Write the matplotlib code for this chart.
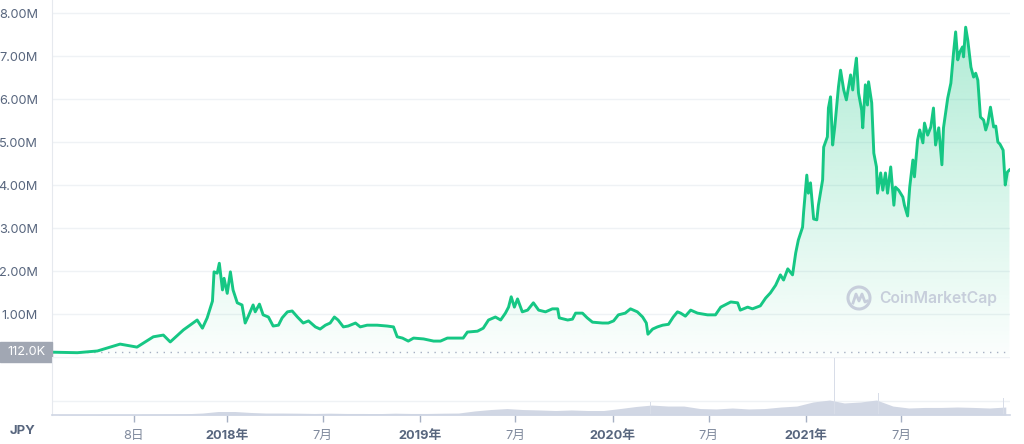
import numpy as np
import pandas as pd
import matplotlib
matplotlib.use("Agg")
import matplotlib.pyplot as plt
import matplotlib.dates as mdates
from matplotlib.patches import Rectangle, Arc
from matplotlib.transforms import blended_transform_factory

FAM = ["Inter", "Noto Sans CJK JP", "DejaVu Sans"]
plt.rcParams["font.family"] = FAM

# price in million JPY
price_dates = [
    "2017-02-03", "2017-03-23", "2017-04-30", "2017-05-24", "2017-06-12", "2017-07-14",
    "2017-08-14", "2017-09-02", "2017-09-15", "2017-10-10", "2017-11-05", "2017-11-15",
    "2017-11-24", "2017-12-04", "2017-12-07", "2017-12-13", "2017-12-17", "2017-12-23",
    "2017-12-26", "2018-01-01", "2018-01-07", "2018-01-12", "2018-01-20", "2018-01-29",
    "2018-02-04", "2018-02-10", "2018-02-19", "2018-02-23", "2018-03-03", "2018-03-10",
    "2018-03-20", "2018-03-29", "2018-04-08", "2018-04-15", "2018-04-25", "2018-05-04",
    "2018-05-14", "2018-05-25", "2018-06-04", "2018-06-17", "2018-06-26", "2018-07-06",
    "2018-07-15", "2018-07-23", "2018-07-30", "2018-08-09", "2018-08-18", "2018-09-01",
    "2018-09-10", "2018-09-23", "2018-10-12", "2018-10-31", "2018-11-12", "2018-11-19",
    "2018-11-29", "2018-12-10", "2018-12-20", "2019-01-08", "2019-01-27", "2019-02-09",
    "2019-02-22", "2019-03-24", "2019-04-01", "2019-04-20", "2019-05-01", "2019-05-11",
    "2019-05-24", "2019-06-03", "2019-06-12", "2019-06-18", "2019-06-23", "2019-06-29",
    "2019-07-05", "2019-07-14", "2019-07-24", "2019-08-04", "2019-08-14", "2019-08-27",
    "2019-09-09", "2019-09-19", "2019-09-22", "2019-10-08", "2019-10-17", "2019-10-23",
    "2019-11-05", "2019-11-14", "2019-11-24", "2019-12-13", "2019-12-24", "2020-01-03",
    "2020-01-12", "2020-01-25", "2020-02-04", "2020-02-17", "2020-02-27", "2020-03-05",
    "2020-03-08", "2020-03-17", "2020-03-26", "2020-04-05", "2020-04-16", "2020-04-25",
    "2020-05-03", "2020-05-09", "2020-05-18", "2020-05-28", "2020-06-10", "2020-06-29",
    "2020-07-14", "2020-07-24", "2020-08-12", "2020-08-25", "2020-08-30", "2020-09-13",
    "2020-09-22", "2020-10-07", "2020-10-17", "2020-10-26", "2020-11-05", "2020-11-14",
    "2020-11-20", "2020-11-28", "2020-12-07", "2020-12-13", "2020-12-18", "2020-12-26",
    "2020-12-28", "2021-01-03", "2021-01-06", "2021-01-10", "2021-01-16", "2021-01-22",
    "2021-01-25", "2021-02-02", "2021-02-04", "2021-02-11", "2021-02-13", "2021-02-17",
    "2021-02-21", "2021-02-25", "2021-03-04", "2021-03-08", "2021-03-14", "2021-03-19",
    "2021-03-27", "2021-03-31", "2021-04-04", "2021-04-07", "2021-04-11", "2021-04-17",
    "2021-04-19", "2021-04-24", "2021-04-28", "2021-04-30", "2021-05-06", "2021-05-10",
    "2021-05-15", "2021-05-17", "2021-05-23", "2021-05-27", "2021-06-01", "2021-06-05",
    "2021-06-11", "2021-06-17", "2021-06-20", "2021-06-26", "2021-07-04", "2021-07-07",
    "2021-07-13", "2021-07-17", "2021-07-23", "2021-07-26", "2021-08-01", "2021-08-05",
    "2021-08-11", "2021-08-14", "2021-08-20", "2021-08-26", "2021-08-31", "2021-09-04",
    "2021-09-10", "2021-09-16", "2021-09-19", "2021-09-27", "2021-10-03", "2021-10-08",
    "2021-10-12", "2021-10-16", "2021-10-20", "2021-10-25", "2021-10-27", "2021-10-31",
    "2021-11-04", "2021-11-10", "2021-11-15", "2021-11-19", "2021-11-23", "2021-11-28",
    "2021-12-04", "2021-12-08", "2021-12-12", "2021-12-17", "2021-12-23", "2021-12-27",
    "2021-12-31", "2022-01-04", "2022-01-10", "2022-01-14", "2022-01-18", "2022-01-22",
]
price_m = [
    0.112, 0.10, 0.14, 0.23, 0.30, 0.23,
    0.47, 0.51, 0.35, 0.63, 0.86, 0.67,
    0.91, 1.30, 1.98, 1.95, 2.18, 1.56,
    1.83, 1.48, 1.98, 1.56, 1.26, 1.21,
    0.79, 0.95, 1.21, 1.05, 1.23, 0.98,
    0.93, 0.72, 0.74, 0.91, 1.05, 1.07,
    0.93, 0.79, 0.84, 0.70, 0.65, 0.74,
    0.79, 0.93, 0.86, 0.70, 0.72, 0.79,
    0.70, 0.74, 0.74, 0.72, 0.70, 0.47,
    0.44, 0.37, 0.44, 0.42, 0.37, 0.37,
    0.44, 0.44, 0.58, 0.60, 0.67, 0.86,
    0.93, 0.86, 1.02, 1.16, 1.40, 1.16,
    1.35, 1.05, 1.09, 1.26, 1.09, 1.05,
    1.12, 1.12, 0.91, 0.86, 0.88, 1.02,
    1.02, 0.91, 0.81, 0.79, 0.79, 0.84,
    0.98, 1.02, 1.12, 1.05, 0.93, 0.79,
    0.53, 0.65, 0.70, 0.74, 0.76, 0.93,
    1.05, 1.02, 0.95, 1.09, 1.02, 0.98,
    0.98, 1.16, 1.28, 1.26, 1.09, 1.16,
    1.12, 1.19, 1.37, 1.49, 1.67, 1.91,
    1.79, 2.05, 1.91, 2.42, 2.72, 3.02,
    3.37, 4.23, 3.81, 4.05, 3.21, 3.19,
    3.53, 4.12, 4.88, 5.12, 5.79, 6.05,
    4.93, 5.35, 6.28, 6.67, 6.21, 5.98,
    6.56, 6.21, 6.67, 6.95, 6.14, 5.74,
    5.33, 6.33, 5.86, 6.40, 5.91, 4.74,
    4.42, 3.81, 4.28, 3.88, 4.28, 3.81,
    4.42, 3.53, 3.95, 3.88, 3.72, 3.53,
    3.28, 3.95, 4.58, 4.19, 5.05, 5.28,
    4.98, 5.44, 5.16, 5.35, 5.79, 4.93,
    5.33, 4.47, 5.33, 6.02, 6.37, 7.07,
    7.56, 6.91, 7.09, 7.21, 6.98, 7.67,
    7.37, 6.74, 6.51, 6.60, 6.44, 5.58,
    5.51, 5.28, 5.44, 5.81, 5.35, 5.37,
    5.00, 4.95, 4.81, 4.00, 4.30, 4.35,
]

# volume, monthly level (relative units) plus a few spikes
vol_dates = pd.date_range("2017-02-01", "2022-01-01", freq="MS") + pd.Timedelta(days=14)
vol = [
    0.02, 0.02, 0.02, 0.04, 0.04, 0.04, 0.06, 0.07, 0.09, 0.14, 0.25,
    0.25, 0.18, 0.14, 0.14, 0.13, 0.11, 0.13, 0.11, 0.11, 0.10, 0.13, 0.11,
    0.11, 0.13, 0.14, 0.29, 0.39, 0.46, 0.39, 0.36, 0.32, 0.36, 0.32, 0.32,
    0.46, 0.61, 0.71, 0.64, 0.64, 0.46, 0.43, 0.50, 0.43, 0.46, 0.57, 0.64,
    0.93, 1.07, 0.86, 0.93, 1.07, 0.64, 0.50, 0.54, 0.54, 0.57, 0.54, 0.50,
    0.57,
]
spike_dates = ["2020-03-13", "2021-01-11", "2021-02-25", "2021-05-19", "2022-01-10"]
spike_vol = [0.93, 1.43, 4.1, 1.57, 1.2]

yticks_m = [1, 2, 3, 4, 5, 6, 7, 8]
xtick_dates = ["2017-07-08", "2018-01-01", "2018-07-01", "2019-01-01", "2019-07-01",
               "2020-01-01", "2020-07-01", "2021-01-01", "2021-07-01"]
xtick_labels = ["8日", "2018年", "7月", "2019年", "7月", "2020年", "7月", "2021年", "7月"]
open_price_m = 0.112

GREEN = "#16c784"
GRID = "#eff2f5"
TXT = "#58667e"
TXT2 = "#808a9d"

pd_dates = pd.to_datetime(price_dates)
xmin, xmax = pd.Timestamp("2017-02-03"), pd.Timestamp("2022-01-23")

W, H = 1024, 444
fig = plt.figure(figsize=(W / 100, H / 100), dpi=100)
L, R = 52 / W, 1010 / W
ax = fig.add_axes([L, (H - 357) / H, R - L, 357 / H])
axv = fig.add_axes([L, (H - 415) / H, R - L, 58 / H])
ymax = 357 / 43

# gradient fill under the price line
poly = ax.fill_between(pd_dates, price_m, 0, color="none", lw=0)
xn = mdates.date2num([xmin, xmax])
grad = np.zeros((256, 2, 4))
rgb = matplotlib.colors.to_rgb(GREEN)
grad[..., 0], grad[..., 1], grad[..., 2] = rgb
alpha = np.linspace(0.36, 0.015, 256)
grad[..., 3] = alpha[:, None]
im = ax.imshow(grad, extent=[xn[0], xn[1], 0, ymax], aspect="auto", origin="upper", zorder=1)
im.set_clip_path(poly.get_paths()[0], transform=ax.transData)

ax.plot(pd_dates, price_m, color=GREEN, lw=2.1, zorder=3, solid_joinstyle="round")
ax.axhline(open_price_m, color="#a6b0c3", lw=1, ls=(0, (1, 4)), zorder=2)

ax.set_xlim(xmin, xmax)
ax.set_ylim(0, ymax)
ax.set_yticks(yticks_m)
ax.set_yticklabels([f"{v:.2f}M" for v in yticks_m])
ax.grid(axis="y", color=GRID, lw=1)
ax.set_axisbelow(True)
ax.tick_params(axis="y", length=0, pad=10, labelsize=9.2, labelcolor=TXT)
ax.tick_params(axis="x", bottom=False, labelbottom=False)
for s in ["top", "right", "bottom"]:
    ax.spines[s].set_visible(False)
ax.spines["left"].set_color("#e6e9ee")

# open price label box
tr = blended_transform_factory(fig.transFigure, ax.transData)
ax.add_patch(Rectangle((0, open_price_m - 0.23), L, 0.46, transform=tr,
                       color="#a1a7b3", clip_on=False, zorder=5))
ax.text(L / 2, open_price_m, f"{open_price_m * 1000:.1f}K", transform=tr, ha="center",
        va="center", color="white", fontsize=9.2, zorder=6)

# volume panel
axv.fill_between(vol_dates, vol, 0, color="#d1d7e4", lw=0)
axv.bar(pd.to_datetime(spike_dates), spike_vol, width=1.5, color="#d8dde8", lw=0)
axv.set_xlim(xmin, xmax)
axv.set_ylim(0, 58 / 14)
axv.set_yticks([1, 58 / 14])
axv.set_yticklabels([])
axv.grid(axis="y", color=GRID, lw=1)
axv.set_axisbelow(True)
axv.tick_params(axis="y", length=0)
for s in ["top", "right"]:
    axv.spines[s].set_visible(False)
axv.spines["left"].set_color("#e6e9ee")
axv.spines["bottom"].set_color("#cfd6e4")
axv.spines["bottom"].set_linewidth(1.2)
axv.set_xticks(pd.to_datetime(xtick_dates))
axv.set_xticklabels(xtick_labels)
axv.tick_params(axis="x", length=5, width=1, color="#a6b0c3", pad=6, labelsize=9.2)
for lab in axv.get_xticklabels():
    if "年" in lab.get_text():
        lab.set_fontweight("bold")
        lab.set_color(TXT)
    else:
        lab.set_color(TXT2)

fig.text(22 / W, 1 - 431 / H, "JPY", ha="center", va="center", fontsize=9.5,
         fontweight="bold", color=TXT)

# watermark
wm = "#c7cedb"
fig.text(879 / W, 1 - 298 / H, "CoinMarketCap", ha="left", va="center", fontsize=11.3,
         fontweight="semibold", color=wm)
lx, ly = 859 / W, 1 - 298 / H
fig.add_artist(Arc((lx, ly), 22 / W, 22 / H, theta1=-60, theta2=300, color=wm, lw=2.2,
                   transform=fig.transFigure))
fig.add_artist(plt.Line2D([lx - 6 / W, lx - 3 / W, lx, lx + 3 / W, lx + 6 / W, lx + 8 / W],
                          [ly - 5 / H, ly + 4 / H, ly - 3 / H, ly + 4 / H, ly - 4 / H, ly - 3 / H],
                          color=wm, lw=2, transform=fig.transFigure))

fig.savefig("out.png", dpi=100, facecolor="white")
